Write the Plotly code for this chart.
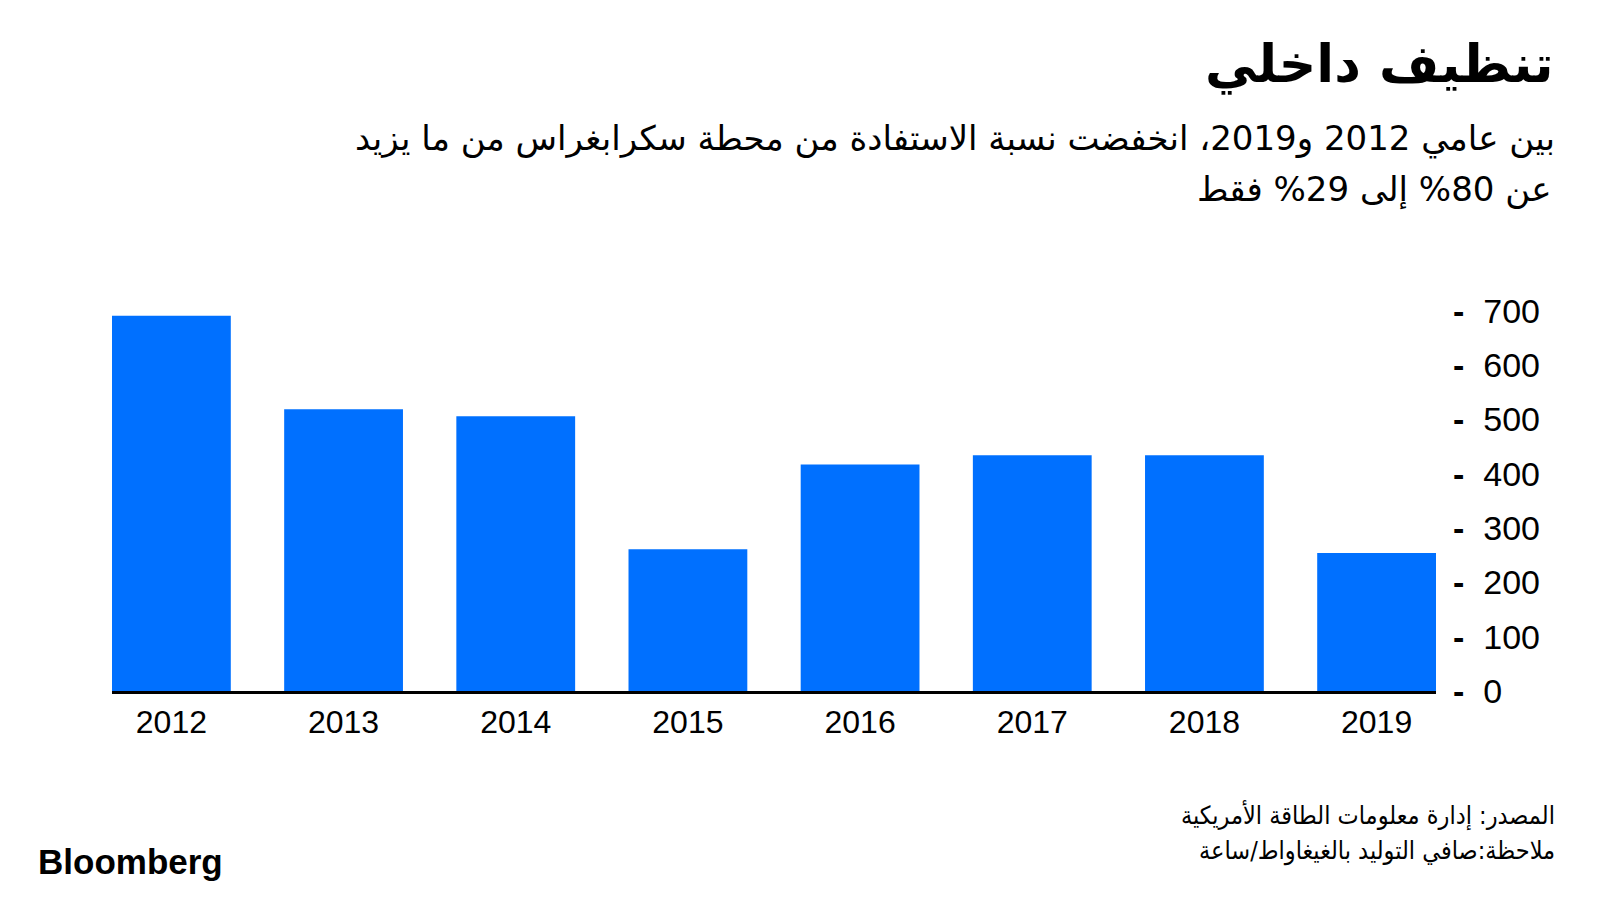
import plotly.graph_objects as go

years = ["2012", "2013", "2014", "2015", "2016", "2017", "2018", "2019"]
generation = [691, 519, 506, 261, 417, 434, 434, 254]
y_ticks = [0, 100, 200, 300, 400, 500, 600, 700]
y_tick_labels = ["<b>-</b>\u00a0\u00a0" + str(v) for v in y_ticks]

title = "تنظيف داخلي"
subtitle_1 = "بين عامي 2012 و2019، انخفضت نسبة الاستفادة من محطة سكرابغراس من ما يزيد"
subtitle_2 = "عن 80% إلى 29% فقط"
source = "المصدر: إدارة معلومات الطاقة الأمريكية"
note = "ملاحظة:صافي التوليد بالغيغاواط/ساعة"

W, H = 1600, 900
OFF = 8  # page body margin
# plot area in page coordinates
PL, PR, PT, PB = 112, 1436, 300, 691
L, R, T, B = PL - OFF, W - (PR - OFF), PT - OFF, H - (PB - OFF)
pw, ph = W - L - R, H - T - B


def px(x):
    return (x - OFF - L) / pw


def py(y):
    return (H - B - (y - OFF)) / ph


fig = go.Figure(
    go.Bar(x=years, y=generation, marker=dict(color="#0070ff", line=dict(width=0)))
)

ar_font = "DejaVu Sans"
anns = [
    dict(text="<b>" + title + "</b>", x=px(1556), y=py(64), font=dict(family="DejaVu Sans", size=52, color="#000"),
         xanchor="right", yanchor="middle"),
    dict(text=subtitle_1, x=px(1557), y=py(138), font=dict(family=ar_font, size=34, color="#000"),
         xanchor="right", yanchor="middle"),
    dict(text=subtitle_2, x=px(1553), y=py(189), font=dict(family=ar_font, size=34, color="#000"),
         xanchor="right", yanchor="middle"),
    dict(text=source, x=px(1557), y=py(815), font=dict(family="DejaVu Sans Condensed", size=25, color="#000"),
         xanchor="right", yanchor="middle"),
    dict(text=note, x=px(1557), y=py(851), font=dict(family="DejaVu Sans Condensed", size=25, color="#000"),
         xanchor="right", yanchor="middle"),
    dict(text="<b>Bloomberg</b>", x=px(36), y=py(861), font=dict(family="Liberation Sans", size=35, color="#000"),
         xanchor="left", yanchor="middle"),
]
for a in anns:
    a.update(xref="paper", yref="paper", showarrow=False)

fig.update_layout(
    width=W, height=H,
    margin=dict(l=L, r=R, t=T, b=B),
    paper_bgcolor="white", plot_bgcolor="white",
    showlegend=False,
    bargap=0.31,
    annotations=anns,
    xaxis=dict(
        type="category", range=[-0.345, 7.345],
        showgrid=False, zeroline=False,
        showline=True, linecolor="#000", linewidth=3,
        ticks="", tickfont=dict(family="Liberation Sans", size=32, color="#000"),
        ticklabelstandoff=1,
    ),
    yaxis=dict(
        side="right", range=[0, 720],
        tickvals=y_ticks, ticktext=y_tick_labels,
        showgrid=False, zeroline=False, showline=False,
        ticks="", tickfont=dict(family="Liberation Sans", size=34, color="#000"),
        ticklabelstandoff=16,
    ),
)

fig.write_html("out.html")
